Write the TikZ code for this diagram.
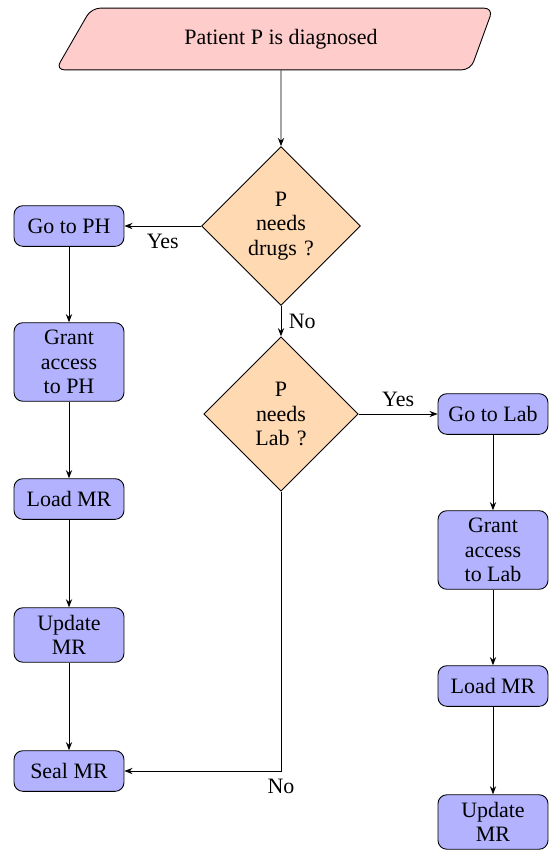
\documentclass[tikz,border=0pt]{standalone}
\usepackage{fontspec}
\setmainfont{Liberation Serif}
\usetikzlibrary{shapes.geometric,arrows.meta}

\begin{document}
\begin{tikzpicture}[x=0.016cm, y=-0.016cm,
        every node/.style={font=\rmfamily\fontsize{10}{11.2}\selectfont},
        startbox/.style={trapezium, trapezium left angle=60, trapezium right angle=110,
            trapezium stretches body, draw, fill=red!20, rounded corners,
            minimum width=7cm, inner ysep=9.5pt},
        decision/.style={diamond, aspect=1, draw, fill=orange!30, text width=1.1cm,
            inner sep=2.5pt, align=center},
        process/.style={rectangle, rounded corners, draw, fill=blue!30,
            minimum width=1.76cm, minimum height=0.65cm, align=center},
        flow/.style={-{Stealth[length=1.3mm, width=1mm]}}]
        \useasboundingbox (0,0) rectangle (549,850);

        % Start
        \node[startbox] (start) at (281,39) {Patient P is diagnosed};

        % Decisions
        \node[decision] (drugs) at (281,226) {P\\needs\\drugs ?};
        \node[decision] (lab) at (281,414) {P\\needs\\Lab ?};

        % Pharmacy branch
        \node[process] (goph) at (69,226) {Go to PH};
        \node[process] (grantph) at (69,362) {Grant\\access\\to PH};
        \node[process] (loadph) at (69,499) {Load MR};
        \node[process] (updateph) at (69,635) {Update\\MR};
        \node[process] (seal) at (69,771) {Seal MR};

        % Lab branch
        \node[process] (golab) at (493,414) {Go to Lab};
        \node[process] (grantlab) at (493,550) {Grant\\access\\to Lab};
        \node[process] (loadlab) at (493,686) {Load MR};
        \node[process] (updatelab) at (493,822) {Update\\MR};

        % Arrows
        \draw[flow] (start) -- (drugs);
        \draw[flow] (drugs) -- node[below] {Yes} (goph);
        \draw[flow] (drugs) -- node[right] {No} (lab);
        \draw[flow] (lab) -- node[above] {Yes} (golab);
        \draw[flow] (lab) |- node[pos=0.5, below] {No} (seal);

        \draw[flow] (goph) -- (grantph);
        \draw[flow] (grantph) -- (loadph);
        \draw[flow] (loadph) -- (updateph);
        \draw[flow] (updateph) -- (seal);

        \draw[flow] (golab) -- (grantlab);
        \draw[flow] (grantlab) -- (loadlab);
        \draw[flow] (loadlab) -- (updatelab);
    \end{tikzpicture}
\end{document}
